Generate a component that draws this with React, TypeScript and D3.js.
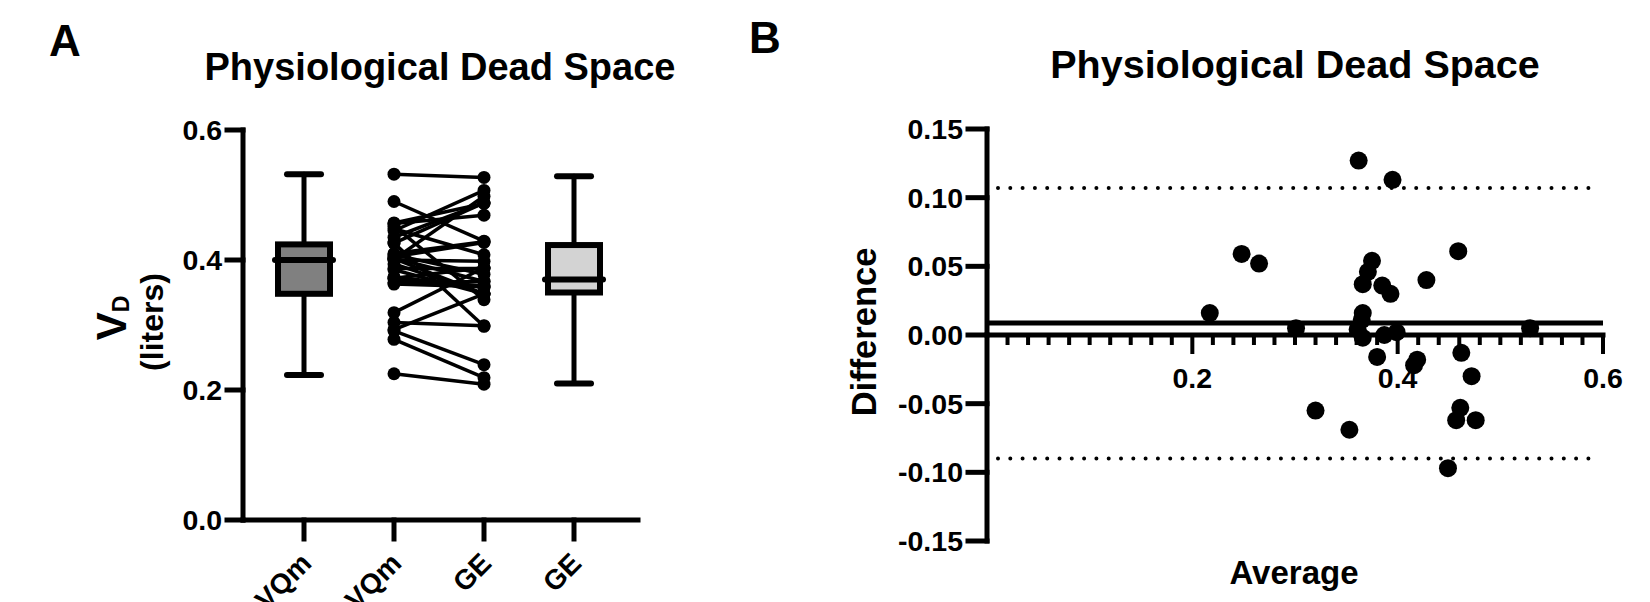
import * as d3 from 'd3'

// panel A: paired values per subject (VQm vs GE), liters
const categories = ['VQm', 'VQm', 'GE', 'GE']
const vqm = [0.426, 0.452, 0.278, 0.291, 0.402, 0.394, 0.385, 0.403, 0.408, 0.448, 0.225, 0.374, 0.371, 0.304, 0.363, 0.365, 0.387, 0.400, 0.372, 0.410, 0.405, 0.293, 0.319, 0.490, 0.532, 0.456, 0.457, 0.435, 0.426, 0.445, 0.401]
const ge = [0.298, 0.339, 0.219, 0.239, 0.348, 0.348, 0.348, 0.367, 0.378, 0.408, 0.209, 0.358, 0.360, 0.299, 0.359, 0.367, 0.387, 0.398, 0.388, 0.428, 0.427, 0.348, 0.388, 0.429, 0.527, 0.469, 0.487, 0.488, 0.488, 0.507, 0.498]
// min, q1, median, q3, max
const boxVqm = [0.223, 0.348, 0.400, 0.424, 0.532]
const boxGe = [0.210, 0.350, 0.370, 0.423, 0.529]
const yTicksA = [0, 0.2, 0.4, 0.6]

// panel B: Bland-Altman
const baAverage = [0.362, 0.395, 0.248, 0.265, 0.375, 0.371, 0.366, 0.385, 0.393, 0.428, 0.217, 0.366, 0.365, 0.301, 0.361, 0.366, 0.387, 0.399, 0.380, 0.419, 0.416, 0.320, 0.353, 0.459, 0.529, 0.462, 0.472, 0.461, 0.457, 0.476, 0.449]
const baDifference = [0.127, 0.113, 0.059, 0.052, 0.054, 0.046, 0.037, 0.036, 0.030, 0.040, 0.016, 0.016, 0.011, 0.005, 0.004, -0.002, 0.000, 0.002, -0.016, -0.018, -0.022, -0.055, -0.069, 0.061, 0.005, -0.013, -0.030, -0.053, -0.062, -0.062, -0.097]
const bias = 0.0087
const loa = [0.107, -0.090]
const yTicksB = [-0.15, -0.10, -0.05, 0.00, 0.05, 0.10, 0.15]
const xTicksB = [0.2, 0.4, 0.6]

const FONT = '"Liberation Sans", Arial, sans-serif'

export default function App() {
  const xA = d3.scalePoint<number>().domain([0, 1, 2, 3]).range([304, 574])
  const yA = d3.scaleLinear().domain([0, 0.6]).range([520, 130])
  const xB = d3.scaleLinear().domain([0, 0.6]).range([987, 1603])
  const yB = d3.scaleLinear().domain([-0.15, 0.15]).range([541, 129])
  const minor = xB.ticks(30).filter(t => t > 0.001 && !xTicksB.some(m => Math.abs(m - t) < 0.001))

  const box = (s: number[], i: number, fill: string) => {
    const cx = xA(i)!, w = 52, cap = 17
    return (
      <g key={'box' + i} stroke="#000" strokeLinecap="round">
        <line x1={cx} x2={cx} y1={yA(s[0])} y2={yA(s[4])} strokeWidth={5} />
        <line x1={cx - cap} x2={cx + cap} y1={yA(s[0])} y2={yA(s[0])} strokeWidth={6} />
        <line x1={cx - cap} x2={cx + cap} y1={yA(s[4])} y2={yA(s[4])} strokeWidth={6} />
        <rect x={cx - w / 2} y={yA(s[3])} width={w} height={yA(s[1]) - yA(s[3])} fill={fill} strokeWidth={6} strokeLinecap="butt" />
        <line x1={cx - w / 2 - 3} x2={cx + w / 2 + 3} y1={yA(s[2])} y2={yA(s[2])} strokeWidth={6} />
      </g>
    )
  }

  return (
    <div style={{ position: 'absolute', left: 0, top: 0 }}>
      <svg width={1650} height={602} style={{ display: 'block', background: '#fff' }} fontFamily={FONT} fontWeight="bold">
        {/* panel A */}
        <text x={49} y={56} fontSize={44}>A</text>
        <text x={440} y={80} fontSize={38} textAnchor="middle">Physiological Dead Space</text>
        <text transform="translate(126,318) rotate(-90)" textAnchor="middle" fontSize={42}>
          V<tspan fontSize={23} dy={3}>D</tspan>
        </text>
        <text transform="translate(163,322) rotate(-90)" textAnchor="middle" fontSize={32}>(liters)</text>

        <g stroke="#000" strokeWidth={5} strokeLinecap="square">
          <line x1={243} x2={243} y1={yA(0.6)} y2={yA(0)} />
          <line x1={243} x2={638} y1={yA(0)} y2={yA(0)} />
          {yTicksA.map(t => <line key={t} x1={227} x2={243} y1={yA(t)} y2={yA(t)} />)}
          {categories.map((_, i) => <line key={i} x1={xA(i)} x2={xA(i)} y1={yA(0)} y2={539} />)}
        </g>
        {yTicksA.map(t => (
          <text key={t} x={222} y={yA(t) + 10} fontSize={28.5} textAnchor="end">{t.toFixed(1)}</text>
        ))}
        {categories.map((c, i) => (
          <text key={i} transform={`translate(${xA(i)! + 9},565) rotate(-45)`} fontSize={28} textAnchor="end">{c}</text>
        ))}

        {box(boxVqm, 0, '#808080')}
        {box(boxGe, 3, '#d3d3d3')}

        <g stroke="#000" strokeWidth={3.5}>
          {vqm.map((v, i) => <line key={i} x1={xA(1)} y1={yA(v)} x2={xA(2)} y2={yA(ge[i])} />)}
        </g>
        <g fill="#000">
          {vqm.map((v, i) => <circle key={'l' + i} cx={xA(1)} cy={yA(v)} r={6.5} />)}
          {ge.map((v, i) => <circle key={'r' + i} cx={xA(2)} cy={yA(v)} r={6.5} />)}
        </g>

        {/* panel B */}
        <text x={749} y={53} fontSize={44}>B</text>
        <text x={1295} y={78} fontSize={39.5} textAnchor="middle">Physiological Dead Space</text>
        <text transform="translate(876,332) rotate(-90)" textAnchor="middle" fontSize={34.5}>Difference</text>
        <text x={1294} y={584} textAnchor="middle" fontSize={33}>Average</text>

        <g stroke="#000" strokeWidth={4} strokeLinecap="round" strokeDasharray="0 12.3">
          {loa.map(v => <line key={v} x1={998} x2={1594} y1={yB(v)} y2={yB(v)} />)}
        </g>
        <line x1={987} x2={1603} y1={yB(bias)} y2={yB(bias)} stroke="#000" strokeWidth={5} />

        <g stroke="#000" strokeWidth={5} strokeLinecap="square">
          <line x1={987} x2={987} y1={yB(0.15)} y2={yB(-0.15)} />
          <line x1={987} x2={1603} y1={yB(0)} y2={yB(0)} />
          {yTicksB.map(t => <line key={t} x1={968} x2={987} y1={yB(t)} y2={yB(t)} />)}
        </g>
        <g stroke="#000" strokeWidth={4}>
          {minor.map(t => <line key={t} x1={xB(t)} x2={xB(t)} y1={yB(0)} y2={yB(0) + 10} />)}
          {xTicksB.map(t => <line key={t} x1={xB(t)} x2={xB(t)} y1={yB(0)} y2={yB(0) + 19} />)}
        </g>
        {yTicksB.map(t => (
          <text key={t} x={963} y={yB(t) + 10} fontSize={28.5} textAnchor="end">{t.toFixed(2)}</text>
        ))}
        {xTicksB.map(t => (
          <text key={t} x={xB(t)} y={388} fontSize={28.5} textAnchor="middle">{t.toFixed(1)}</text>
        ))}

        <g fill="#000">
          {baAverage.map((a, i) => <circle key={i} cx={xB(a)} cy={yB(baDifference[i])} r={9} />)}
        </g>
      </svg>
    </div>
  )
}
